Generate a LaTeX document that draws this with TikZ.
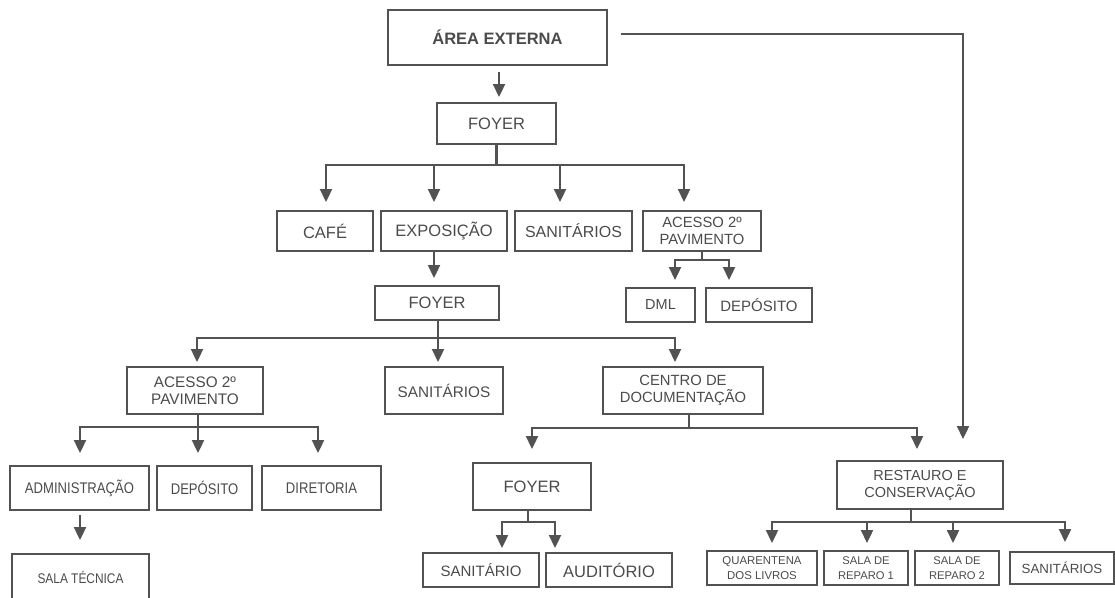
\documentclass[tikz,border=0pt]{standalone}
\usepackage{fontspec}
\setmainfont{Liberation Sans}
\newfontfamily\narrowfont[FakeStretch=0.85]{Liberation Sans}
\usetikzlibrary{arrows.meta}
\definecolor{lncol}{RGB}{82,82,82}
\definecolor{txcol}{RGB}{75,75,75}
\begin{document}
\begin{tikzpicture}[x=1pt,y=-1pt,
  box/.style={draw=lncol,line width=2.4pt,rectangle,inner sep=0pt,outer sep=0pt,text=txcol,align=center},
  sz/.style 2 args={minimum width=#1pt,minimum height=#2pt},
  fs/.style 2 args={font=\fontsize{#1}{#2}\selectfont},
  nfs/.style 2 args={font=\narrowfont\fontsize{#1}{#2}\selectfont},
  arr/.style={draw=lncol,line width=2.3pt,-{Triangle[width=12pt,length=13pt]}},
]
\useasboundingbox (0,0) rectangle (1115,597);

% nodes
\node[box,sz={219}{55},font=\fontsize{16.5}{19}\selectfont\bfseries] (area) at (497.5,37.5) {ÁREA EXTERNA};
\node[box,sz={119}{41},fs={16.5}{19}] (foyer1) at (496.5,123.5) {FOYER};
\node[box,sz={96}{40},fs={16.5}{19}] (cafe) at (325,231) {CAFÉ};
\node[box,sz={126}{40},fs={16.5}{19}] (expo) at (444,231) {EXPOSIÇÃO};
\node[box,sz={117}{40},fs={16}{19}] (sanit1) at (573.5,231) {SANITÁRIOS};
\node[box,sz={118}{40},fs={14.8}{17}] (acesso1) at (702,231) {ACESSO 2º\\PAVIMENTO};
\node[box,sz={69}{34},fs={14.5}{17}] (dml) at (660.5,305) {DML};
\node[box,sz={106}{34},fs={15}{17}] (dep1) at (759,305) {DEPÓSITO};
\node[box,sz={124}{34},fs={16.5}{19}] (foyer2) at (437,303) {FOYER};
\node[box,sz={136}{47},fs={15.3}{17}] (acesso2) at (195,390.5) {ACESSO 2º\\PAVIMENTO};
\node[box,sz={118}{47},fs={15.3}{17}] (sanit2) at (444,390.5) {SANITÁRIOS};
\node[box,sz={160}{47},fs={14.8}{17}] (centro) at (683,390.5) {CENTRO DE\\DOCUMENTAÇÃO};
\node[box,sz={139}{44},nfs={15.4}{17}] (admin) at (79.5,488) {ADMINISTRAÇÃO};
\node[box,sz={95}{44},nfs={15.4}{17}] (dep2) at (204.5,488) {DEPÓSITO};
\node[box,sz={119}{44},nfs={15.4}{17}] (diret) at (321.5,488) {DIRETORIA};
\node[box,sz={137}{46},nfs={14}{17}] (salatec) at (80.5,577) {SALA TÉCNICA};
\node[box,sz={118}{47},fs={16.5}{19}] (foyer3) at (532,486.5) {FOYER};
\node[box,sz={166}{48},fs={14.5}{17}] (restauro) at (920,485) {RESTAURO E\\CONSERVAÇÃO};
\node[box,sz={116}{34},fs={15}{17}] (sanitario) at (481,570) {SANITÁRIO};
\node[box,sz={126}{34},fs={16.5}{19}] (audit) at (609,570) {AUDITÓRIO};
\node[box,sz={110}{34},fs={11.4}{15}] (quar) at (762,568) {QUARENTENA\\DOS LIVROS};
\node[box,sz={84}{34},fs={11.2}{15}] (sala1) at (866,568) {SALA DE\\REPARO 1};
\node[box,sz={84}{34},fs={11.2}{15}] (sala2) at (957,568) {SALA DE\\REPARO 2};
\node[box,sz={104}{32},fs={13.3}{15}] (sanit3) at (1062,568) {SANITÁRIOS};

% connectors
\draw[arr] ([xshift=1.5pt,yshift=-7pt]area.south) -- ([xshift=2.5pt,yshift=6pt]foyer1.north);
\coordinate (extEnd) at (963,439);
\draw[arr] ([xshift=14pt,yshift=3.5pt]area.east) -| (extEnd);

\draw[arr] (foyer1.south) -- ++(0,21) -| ([xshift=1pt,yshift=9pt]cafe.north);
\draw[arr] (foyer1.south) -- ++(0,21) -| ([xshift=-10pt,yshift=9pt]expo.north);
\draw[arr] (foyer1.south) -- ++(0,21) -| ([xshift=-13.5pt,yshift=9pt]sanit1.north);
\draw[arr] (foyer1.south) -- ++(0,21) -| ([xshift=-18pt,yshift=9pt]acesso1.north);

\draw[arr] (acesso1.south) -- ++(0,9) -| ([xshift=14.5pt,yshift=8pt]dml.north);
\draw[arr] (acesso1.south) -- ++(0,9) -| ([xshift=-30pt,yshift=8pt]dep1.north);

\draw[arr] ([xshift=-10pt]expo.south) -- ([xshift=-3pt,yshift=8pt]foyer2.north);

\draw[arr] ([xshift=1pt]foyer2.south) -- ++(0,18) -| ([xshift=2pt,yshift=5pt]acesso2.north);
\draw[arr] ([xshift=1pt]foyer2.south) -- ++(0,18) -| ([xshift=-6pt,yshift=5pt]sanit2.north);
\draw[arr] ([xshift=1pt]foyer2.south) -- ++(0,18) -| ([xshift=-8pt,yshift=5pt]centro.north);

\draw[arr] ([xshift=3pt]acesso2.south) -- ++(0,13) -| ([xshift=0.5pt,yshift=13pt]admin.north);
\draw[arr] ([xshift=3pt]acesso2.south) -- ++(0,13) -| ([xshift=-6.5pt,yshift=13pt]dep2.north);
\draw[arr] ([xshift=3pt]acesso2.south) -- ++(0,13) -| ([xshift=-3.5pt,yshift=13pt]diret.north);

\draw[arr] ([xshift=0.5pt,yshift=-5pt]admin.south) -- ([xshift=-0.5pt,yshift=14pt]salatec.north);

\draw[arr] ([xshift=6pt]centro.south) -- ++(0,14) -| ([yshift=14pt]foyer3.north);
\draw[arr] ([xshift=6pt]centro.south) -- ++(0,14) -| ([xshift=-3pt,yshift=12pt]restauro.north);

\draw[arr] ([xshift=-4pt]foyer3.south) -- ++(0,12) -| ([xshift=21pt,yshift=5pt]sanitario.north);
\draw[arr] ([xshift=-4pt]foyer3.south) -- ++(0,12) -| ([xshift=-54pt,yshift=5pt]audit.north);

\draw[arr] ([xshift=-9pt]restauro.south) -- ++(0,13) -| ([xshift=10pt,yshift=8pt]quar.north);
\draw[arr] ([xshift=-9pt]restauro.south) -- ++(0,13) -| ([xshift=1pt,yshift=8pt]sala1.north);
\draw[arr] ([xshift=-9pt]restauro.south) -- ++(0,13) -| ([xshift=-4pt,yshift=8pt]sala2.north);
\draw[arr] ([xshift=-9pt]restauro.south) -- ++(0,13) -| ([xshift=3pt,yshift=10pt]sanit3.north);
\end{tikzpicture}
\end{document}
